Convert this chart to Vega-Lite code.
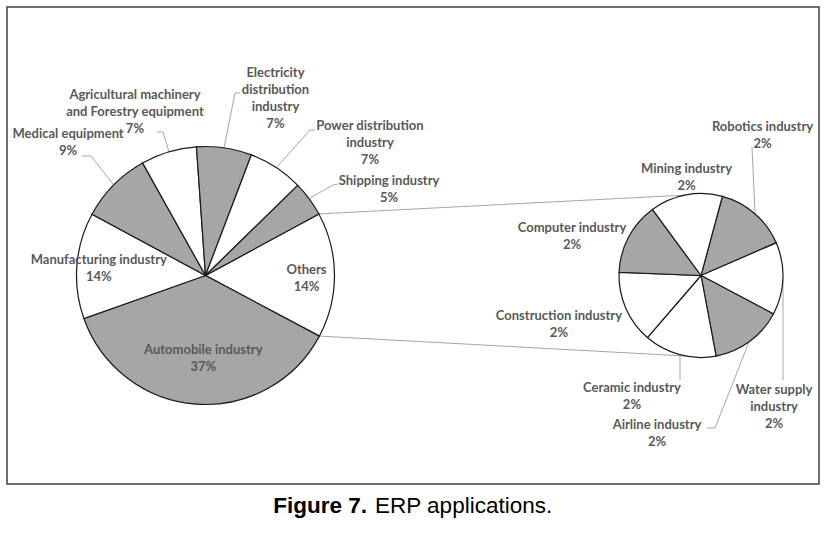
{
  "$schema": "https://vega.github.io/schema/vega-lite/v6.json",
  "width": 840,
  "height": 536,
  "autosize": {"type": "fit", "contains": "padding"},
  "padding": 0,
  "background": "white",
  "config": {
    "view": {"stroke": null},
    "text": {"font": "Lato", "fontWeight": "bold", "fontSize": 13, "fill": "#595959", "lineHeight": 17, "lineBreak": "\n", "align": "center", "baseline": "middle"},
    "rule": {"stroke": "#a6a6a6", "strokeWidth": 1}
  },
  "datasets": {
    "main": [
      {"name": "Others", "share": 15.7, "seq": 1, "label": "Others\n14%"},
      {"name": "Automobile industry", "share": 36.8, "seq": 2, "label": "Automobile industry\n37%"},
      {"name": "Manufacturing industry", "share": 13.3, "seq": 3, "label": "Manufacturing industry\n14%"},
      {"name": "Medical equipment", "share": 9.0, "seq": 4, "label": "Medical equipment\n9%"},
      {"name": "Agricultural machinery and Forestry equipment", "share": 7.0, "seq": 5, "label": "Agricultural machinery\nand Forestry equipment\n7%"},
      {"name": "Electricity distribution industry", "share": 6.9, "seq": 6, "label": "Electricity\ndistribution\nindustry\n7%"},
      {"name": "Power distribution industry", "share": 6.9, "seq": 7, "label": "Power distribution\nindustry\n7%"},
      {"name": "Shipping industry", "share": 4.4, "seq": 8, "label": "Shipping industry\n5%"}
    ],
    "sub": [
      {"name": "Robotics industry", "share": 2.24, "seq": 1, "label": "Robotics industry\n2%"},
      {"name": "Water supply industry", "share": 2.24, "seq": 2, "label": "Water supply\nindustry\n2%"},
      {"name": "Airline industry", "share": 2.24, "seq": 3, "label": "Airline industry\n2%"},
      {"name": "Ceramic industry", "share": 2.24, "seq": 4, "label": "Ceramic industry\n2%"},
      {"name": "Construction industry", "share": 2.24, "seq": 5, "label": "Construction industry\n2%"},
      {"name": "Computer industry", "share": 2.24, "seq": 6, "label": "Computer industry\n2%"},
      {"name": "Mining industry", "share": 2.24, "seq": 7, "label": "Mining industry\n2%"}
    ]
  },
  "layer": [
    {"data": {"values": [{}]}, "mark": {"type": "rect", "fill": "transparent", "stroke": "#404040", "strokeWidth": 1.5},
     "encoding": {"x": {"value": 7}, "y": {"value": 7}, "x2": {"value": 819}, "y2": {"value": 484}}},
    {"data": {"values": [{}]}, "mark": "rule", "encoding": {"x": {"value": 318.9}, "y": {"value": 213.9}, "x2": {"value": 687}, "y2": {"value": 195}}},
    {"data": {"values": [{}]}, "mark": "rule", "encoding": {"x": {"value": 319.4}, "y": {"value": 336.1}, "x2": {"value": 685}, "y2": {"value": 356}}},
    {"data": {"values": [{}]}, "mark": "rule", "encoding": {"x": {"value": 82}, "y": {"value": 156}, "x2": {"value": 91}, "y2": {"value": 156}}},
    {"data": {"values": [{}]}, "mark": "rule", "encoding": {"x": {"value": 91}, "y": {"value": 156}, "x2": {"value": 113}, "y2": {"value": 184}}},
    {"data": {"values": [{}]}, "mark": "rule", "encoding": {"x": {"value": 157}, "y": {"value": 132}, "x2": {"value": 163}, "y2": {"value": 132}}},
    {"data": {"values": [{}]}, "mark": "rule", "encoding": {"x": {"value": 163}, "y": {"value": 132}, "x2": {"value": 169}, "y2": {"value": 152}}},
    {"data": {"values": [{}]}, "mark": "rule", "encoding": {"x": {"value": 240}, "y": {"value": 93}, "x2": {"value": 235}, "y2": {"value": 93}}},
    {"data": {"values": [{}]}, "mark": "rule", "encoding": {"x": {"value": 235}, "y": {"value": 93}, "x2": {"value": 224}, "y2": {"value": 148}}},
    {"data": {"values": [{}]}, "mark": "rule", "encoding": {"x": {"value": 315}, "y": {"value": 130}, "x2": {"value": 310}, "y2": {"value": 130}}},
    {"data": {"values": [{}]}, "mark": "rule", "encoding": {"x": {"value": 310}, "y": {"value": 130}, "x2": {"value": 276}, "y2": {"value": 168}}},
    {"data": {"values": [{}]}, "mark": "rule", "encoding": {"x": {"value": 338}, "y": {"value": 184}, "x2": {"value": 333}, "y2": {"value": 185}}},
    {"data": {"values": [{}]}, "mark": "rule", "encoding": {"x": {"value": 333}, "y": {"value": 185}, "x2": {"value": 310}, "y2": {"value": 198}}},
    {"data": {"values": [{}]}, "mark": "rule", "encoding": {"x": {"value": 752}, "y": {"value": 147}, "x2": {"value": 755}, "y2": {"value": 213}}},
    {"data": {"values": [{}]}, "mark": "rule", "encoding": {"x": {"value": 783}, "y": {"value": 279}, "x2": {"value": 783}, "y2": {"value": 380}}},
    {"data": {"values": [{}]}, "mark": "rule", "encoding": {"x": {"value": 707}, "y": {"value": 428}, "x2": {"value": 715}, "y2": {"value": 428}}},
    {"data": {"values": [{}]}, "mark": "rule", "encoding": {"x": {"value": 715}, "y": {"value": 428}, "x2": {"value": 749}, "y2": {"value": 342}}},
    {"data": {"values": [{}]}, "mark": "rule", "encoding": {"x": {"value": 680}, "y": {"value": 355}, "x2": {"value": 680}, "y2": {"value": 380}}},
    {
      "data": {"name": "main"},
      "encoding": {
        "theta": {"field": "share", "type": "quantitative", "stack": true, "scale": {"range": [1.07338, 7.35656]}},
        "order": {"field": "seq", "type": "quantitative"}
      },
      "layer": [
        {
          "mark": {"type": "arc", "x": 205.5, "y": 275.5, "outerRadius": 129, "stroke": "#1a1a1a", "strokeWidth": 1.2},
          "encoding": {
            "color": {"field": "name", "type": "nominal", "legend": null,
              "scale": {"domain": ["Others", "Automobile industry", "Manufacturing industry", "Medical equipment", "Agricultural machinery and Forestry equipment", "Electricity distribution industry", "Power distribution industry", "Shipping industry"],
                        "range": ["#ffffff", "#a6a6a6", "#ffffff", "#a6a6a6", "#ffffff", "#a6a6a6", "#ffffff", "#a6a6a6"]}}
          }
        },
        {"mark": {"type": "text", "x": 205.5, "y": 275.5, "radius": 101, "dy": -5.5},
         "encoding": {"text": {"condition": {"test": "datum.name === 'Others'", "field": "label"}, "value": ""}}},
        {"mark": {"type": "text", "x": 205.5, "y": 275.5, "radius": 83.5, "dx": 4, "dy": -8.5},
         "encoding": {"text": {"condition": {"test": "datum.name === 'Automobile industry'", "field": "label"}, "value": ""}}},
        {"mark": {"type": "text", "x": 205.5, "y": 275.5, "radius": 107, "dy": -7.5},
         "encoding": {"text": {"condition": {"test": "datum.name === 'Manufacturing industry'", "field": "label"}, "value": ""}}},
        {"mark": {"type": "text", "x": 205.5, "y": 275.5, "radius": 191.5, "dx": -1, "dy": -7.5},
         "encoding": {"text": {"condition": {"test": "datum.name === 'Medical equipment'", "field": "label"}, "value": ""}}},
        {"mark": {"type": "text", "x": 205.5, "y": 275.5, "radius": 140, "dx": -30.5, "dy": -46.1},
         "encoding": {"text": {"condition": {"test": "datum.name === 'Agricultural machinery and Forestry equipment'", "field": "label"}, "value": ""}}},
        {"mark": {"type": "text", "x": 205.5, "y": 275.5, "radius": 140, "dx": 49.5, "dy": -64.5},
         "encoding": {"text": {"condition": {"test": "datum.name === 'Electricity distribution industry'", "field": "label"}, "value": ""}}},
        {"mark": {"type": "text", "x": 205.5, "y": 275.5, "radius": 140, "dx": 87.7, "dy": -32.9},
         "encoding": {"text": {"condition": {"test": "datum.name === 'Power distribution industry'", "field": "label"}, "value": ""}}},
        {"mark": {"type": "text", "x": 205.5, "y": 275.5, "radius": 140, "dx": 70.9, "dy": -10.9},
         "encoding": {"text": {"condition": {"test": "datum.name === 'Shipping industry'", "field": "label"}, "value": ""}}}
      ]
    },
    {
      "data": {"name": "sub"},
      "encoding": {
        "theta": {"field": "share", "type": "quantitative", "stack": true, "scale": {"range": [0.26354, 6.54673]}},
        "order": {"field": "seq", "type": "quantitative"}
      },
      "layer": [
        {
          "mark": {"type": "arc", "x": 701, "y": 275.5, "outerRadius": 82, "stroke": "#1a1a1a", "strokeWidth": 1.2},
          "encoding": {
            "color": {"field": "name", "type": "nominal", "legend": null,
              "scale": {"domain": ["Robotics industry", "Water supply industry", "Airline industry", "Ceramic industry", "Construction industry", "Computer industry", "Mining industry"],
                        "range": ["#a6a6a6", "#ffffff", "#a6a6a6", "#ffffff", "#ffffff", "#a6a6a6", "#ffffff"]}}
          }
        },
        {"mark": {"type": "text", "x": 701, "y": 275.5, "radius": 90, "dx": 2.7, "dy": -80.4},
         "encoding": {"text": {"condition": {"test": "datum.name === 'Robotics industry'", "field": "label"}, "value": ""}}},
        {"mark": {"type": "text", "x": 701, "y": 275.5, "radius": 90, "dx": -16.9, "dy": 111},
         "encoding": {"text": {"condition": {"test": "datum.name === 'Water supply industry'", "field": "label"}, "value": ""}}},
        {"mark": {"type": "text", "x": 701, "y": 275.5, "radius": 90, "dx": -97.3, "dy": 77.2},
         "encoding": {"text": {"condition": {"test": "datum.name === 'Airline industry'", "field": "label"}, "value": ""}}},
        {"mark": {"type": "text", "x": 701, "y": 275.5, "radius": 90, "dx": -45.6, "dy": 26.1},
         "encoding": {"text": {"condition": {"test": "datum.name === 'Ceramic industry'", "field": "label"}, "value": ""}}},
        {"mark": {"type": "text", "x": 701, "y": 275.5, "radius": 90, "dx": -59.5, "dy": 5.1},
         "encoding": {"text": {"condition": {"test": "datum.name === 'Construction industry'", "field": "label"}, "value": ""}}},
        {"mark": {"type": "text", "x": 701, "y": 275.5, "radius": 90, "dx": -49.5, "dy": -5.7},
         "encoding": {"text": {"condition": {"test": "datum.name === 'Computer industry'", "field": "label"}, "value": ""}}},
        {"mark": {"type": "text", "x": 701, "y": 275.5, "radius": 90, "dx": 2.1, "dy": -18},
         "encoding": {"text": {"condition": {"test": "datum.name === 'Mining industry'", "field": "label"}, "value": ""}}}
      ]
    },
    {"data": {"values": [{}]}, "mark": {"type": "text", "x": 367, "y": 513, "text": "Figure 7.", "align": "right", "baseline": "alphabetic", "font": "Liberation Sans", "fontWeight": "bold", "fontSize": 22.5, "fill": "#000000"}, "encoding": {}},
    {"data": {"values": [{}]}, "mark": {"type": "text", "x": 375, "y": 513, "text": "ERP applications.", "align": "left", "baseline": "alphabetic", "font": "Liberation Sans", "fontWeight": "normal", "fontSize": 22.5, "fill": "#000000"}, "encoding": {}}
  ],
  "resolve": {"scale": {"theta": "independent", "color": "independent"}}
}
